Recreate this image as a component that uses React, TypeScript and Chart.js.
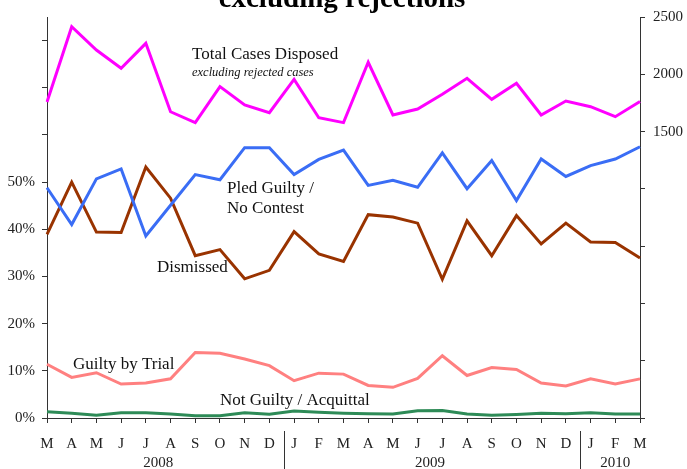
import React, { useEffect, useRef } from "react";
import { Chart, registerables } from "chart.js";

Chart.register(...registerables);

const months = ["M","A","M","J","J","A","S","O","N","D","J","F","M","A","M","J","J","A","S","O","N","D","J","F","M"];
const totalCases = [1758,2415,2212,2052,2270,1673,1578,1892,1732,1665,1956,1621,1578,2105,1645,1697,1825,1965,1781,1921,1645,1767,1717,1630,1762];
const pledGuilty = [48.8,41.0,50.7,52.8,38.6,45.1,51.6,50.5,57.3,57.3,51.6,54.8,56.8,49.3,50.4,48.9,56.2,48.6,54.6,46.1,54.9,51.2,53.5,54.9,57.5];
const dismissed = [38.9,50.0,39.4,39.3,53.2,46.6,34.4,35.7,29.5,31.3,39.5,34.8,33.2,43.1,42.6,41.3,29.4,41.8,34.4,42.9,36.9,41.3,37.3,37.2,33.9];
const guiltyTrial = [11.4,8.6,9.6,7.2,7.4,8.3,13.9,13.7,12.5,11.1,7.9,9.5,9.3,6.9,6.5,8.4,13.2,9.0,10.7,10.3,7.4,6.8,8.3,7.2,8.3];
const notGuilty = [1.3,1.0,0.6,1.1,1.1,0.85,0.5,0.5,1.1,0.8,1.5,1.2,1.0,0.9,0.85,1.55,1.6,0.85,0.6,0.75,1.0,0.9,1.1,0.85,0.85];
const years = ["2008", "2009", "2010"];
const yearStart = [0, 10, 22];
const yearEnd = [9, 21, 24];

const SERIF = "'Liberation Serif', 'Times New Roman', serif";
const AXIS = "#333";

const overlayPlugin = {
  id: "overlay",
  afterDraw(chart: any) {
    const ctx = chart.ctx;
    const area = chart.chartArea;
    const x = chart.scales.x;
    ctx.save();
    // title (cut off at the top)
    ctx.fillStyle = "#000";
    ctx.font = `bold 29px ${SERIF}`;
    ctx.textAlign = "center";
    ctx.textBaseline = "alphabetic";
    ctx.fillText("excluding rejections", 342, 7);

    // series labels
    ctx.fillStyle = "#111";
    ctx.textAlign = "left";
    ctx.textBaseline = "middle";
    ctx.font = `17px ${SERIF}`;
    ctx.fillText("Total Cases Disposed", area.left + 145, 55);
    ctx.fillText("Pled Guilty /", area.left + 180, 189);
    ctx.fillText("No Contest", area.left + 180, 209);
    ctx.fillText("Dismissed", area.left + 110, 268);
    ctx.fillText("Guilty by Trial", area.left + 26, 365);
    ctx.fillText("Not Guilty / Acquittal", area.left + 173, 401);
    ctx.font = `italic 12.5px ${SERIF}`;
    ctx.fillText("excluding rejected cases", area.left + 145, 73);

    // year labels and separators
    ctx.font = `15px ${SERIF}`;
    ctx.textAlign = "center";
    ctx.fillStyle = "#222";
    for (let i = 0; i < years.length; i++) {
      const a = x.getPixelForValue(yearStart[i]);
      const b = x.getPixelForValue(yearEnd[i]);
      ctx.fillText(years[i], (a + b) / 2, 463);
      if (i > 0) {
        const sep = (x.getPixelForValue(yearStart[i] - 1) + a) / 2 + 2;
        ctx.strokeStyle = AXIS;
        ctx.lineWidth = 1;
        ctx.beginPath();
        ctx.moveTo(Math.round(sep) + 0.5, 431);
        ctx.lineTo(Math.round(sep) + 0.5, 469);
        ctx.stroke();
      }
    }
    ctx.restore();
  },
};

export default function App() {
  const ref = useRef<HTMLCanvasElement | null>(null);
  useEffect(() => {
    if (!ref.current) return;
    const mk = (label: string, data: number[], color: string, axis: string) => ({
      label,
      data,
      borderColor: color,
      backgroundColor: color,
      borderWidth: 3,
      pointRadius: 0,
      tension: 0,
      yAxisID: axis,
    });
    const chart = new Chart(ref.current, {
      type: "line",
      data: {
        labels: months,
        datasets: [
          mk("Total Cases Disposed", totalCases, "#FF00FF", "y2"),
          mk("Pled Guilty / No Contest", pledGuilty, "#3A6DF5", "y"),
          mk("Dismissed", dismissed, "#993300", "y"),
          mk("Guilty by Trial", guiltyTrial, "#FF8080", "y"),
          mk("Not Guilty / Acquittal", notGuilty, "#2E8B57", "y"),
        ],
      },
      options: {
        animation: false,
        responsive: true,
        maintainAspectRatio: false,
        layout: { padding: { top: 17, left: 0, right: 0, bottom: 0 } },
        plugins: { legend: { display: false }, tooltip: { enabled: false }, title: { display: false } },
        scales: {
          x: {
            offset: false,
            grid: { drawOnChartArea: false, drawTicks: true, tickLength: 5, color: AXIS },
            border: { display: true, color: AXIS },
            ticks: {
              autoSkip: false,
              maxRotation: 0,
              minRotation: 0,
              padding: 12,
              color: "#222",
              font: { family: SERIF, size: 15 },
            },
            afterFit(scale: any) {
              scale.height = 51;
            },
          },
          y: {
            position: "left",
            min: 0,
            max: 85,
            grid: { drawOnChartArea: false, drawTicks: true, tickLength: 5, color: AXIS },
            border: { display: true, color: AXIS },
            ticks: {
              stepSize: 10,
              padding: 7,
              color: "#222",
              font: { family: SERIF, size: 15 },
              callback: (v: any) => (v <= 50 ? `${v}%` : ""),
            },
            afterBuildTicks(scale: any) {
              scale.ticks = scale.ticks.filter((t: any) => t.value <= 80);
            },
            afterFit(scale: any) {
              scale.width = 47;
            },
          },
          y2: {
            position: "right",
            min: -1000,
            max: 2500,
            grid: { drawOnChartArea: false, drawTicks: true, tickLength: 5, color: AXIS },
            border: { display: true, color: AXIS },
            ticks: {
              stepSize: 500,
              padding: 8,
              color: "#222",
              font: { family: SERIF, size: 15 },
              callback: (v: any) => (v >= 1500 ? String(v) : ""),
            },
            afterFit(scale: any) {
              scale.width = 47;
            },
          },
        },
      },
      plugins: [overlayPlugin],
    });
    return () => chart.destroy();
  }, []);

  return (
    <div style={{ position: "absolute", left: 0, top: 0, width: 687, height: 469, background: "#fff" }}>
      <canvas ref={ref} />
    </div>
  );
}
